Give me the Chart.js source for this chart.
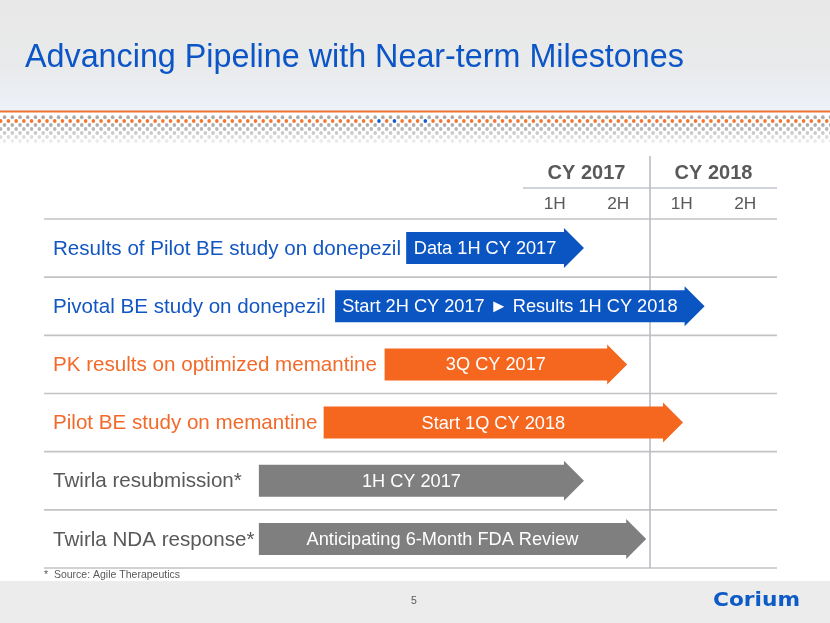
<!DOCTYPE html>
<html>
<head>
<meta charset="utf-8">
<script src="https://cdn.jsdelivr.net/npm/chart.js"></script>
<style>
  html, body { margin: 0; padding: 0; background: #fff; }
  #wrap { width: 830px; height: 623px; }
</style>
</head>
<body>
<div id="wrap"><canvas id="pipeline" width="830" height="623"></canvas></div>
<script>
// slide data
const titleText = "Advancing Pipeline with Near-term Milestones";
const rowLabels = [
  "Results of Pilot BE study on donepezil",
  "Pivotal BE study on donepezil",
  "PK results on optimized memantine",
  "Pilot BE study on memantine",
  "Twirla resubmission*",
  "Twirla NDA response*"
];
const barText = [
  "Data 1H CY 2017",
  "Start 2H CY 2017 \u25BA Results 1H CY 2018",
  "3Q CY 2017",
  "Start 1Q CY 2018",
  "1H CY 2017",
  "Anticipating 6-Month FDA Review"
];
// arrow start / tip, in calendar years
const barStart = [2016.08, 2015.52, 2015.91, 2015.43, 2014.92, 2014.92];
const barEnd = [2017.48, 2018.43, 2017.82, 2018.26, 2017.48, 2017.97];
const years = [2017, 2018];
const halves = ["1H", "2H"];
const footnote = "*  Source: Agile Therapeutics";
const pageNo = "5";

// styles
const BLUE = "#0b55c3", ORANGE = "#f5661f", GREY = "#7f7f7f";
const rowColor = [BLUE, BLUE, ORANGE, ORANGE, GREY, GREY];
const labelColor = ["#1256c2", "#1256c2", "#f26a2a", "#f26a2a", "#595959", "#595959"];
const FONT = "'Liberation Sans', Arial, sans-serif";

const slideFrame = {
  id: "slideFrame",
  beforeDraw(chart) {
    const ctx = chart.ctx;
    ctx.save();
    // top band
    let g = ctx.createLinearGradient(0, 0, 0, 111);
    g.addColorStop(0, "#e8e8e8");
    g.addColorStop(0.6, "#e9eaeb");
    g.addColorStop(1, "#edf2f9");
    ctx.fillStyle = g;
    ctx.fillRect(0, 0, 830, 111);
    ctx.fillStyle = "#f07232";
    ctx.fillRect(0, 110.5, 830, 2);
    // dotted band, staggered rows
    const rowsY = [117.2, 121, 125, 129, 133, 137, 141];
    const rowsC = ["#a9a9a9", "#f47630", "#adadad", "#b9b9b9", "#cacaca", "#dbdbdb", "#ebebeb"];
    rowsY.forEach((y, r) => {
      const shift = r % 2 === 0 ? 3.86 : 0;
      for (let k = 0; k < 109; k++) {
        const x = 0.7 + shift + k * 7.72;
        let c = rowsC[r];
        if (r === 1 && (k === 49 || k === 51 || k === 55)) c = "#155cc8";
        ctx.fillStyle = c;
        ctx.beginPath();
        ctx.ellipse(x, y, 1.8, 1.9, 0, 0, Math.PI * 2);
        ctx.fill();
      }
    });
    // footer band
    ctx.fillStyle = "#ececec";
    ctx.fillRect(0, 581, 830, 42);
    // title
    ctx.fillStyle = "#0b55c6";
    ctx.font = "32.3px " + FONT;
    ctx.textBaseline = "alphabetic";
    ctx.fillText(titleText, 25, 67);
    // footnote + page number
    ctx.fillStyle = "#595959";
    ctx.font = "10.5px " + FONT;
    ctx.textBaseline = "middle";
    ctx.fillText(footnote, 44, 575);
    ctx.textAlign = "center";
    ctx.fillText(pageNo, 414, 601);
    // logo
    ctx.fillStyle = "#0d5bc6";
    ctx.font = "bold 19px 'DejaVu Sans', " + FONT;
    ctx.textAlign = "left";
    const w = ctx.measureText("Corium").width;
    ctx.translate(713, 601);
    ctx.scale(87 / w, 1);
    ctx.fillText("Corium", 0, 0);
    ctx.restore();
  },
  beforeDatasetDraw() {
    return false;
  },
  afterDatasetsDraw(chart) {
    const ctx = chart.ctx;
    const area = chart.chartArea;
    const xs = chart.scales.x;
    const rowH = (area.bottom - area.top) / rowLabels.length;
    ctx.save();
    // grid
    ctx.strokeStyle = "#c3c3c3";
    ctx.lineWidth = 1.6;
    for (let i = 0; i <= rowLabels.length; i++) {
      const y = area.top + i * rowH;
      ctx.beginPath();
      ctx.moveTo(area.left, y);
      ctx.lineTo(area.right, y);
      ctx.stroke();
    }
    ctx.strokeStyle = "#c0c4cc";
    ctx.beginPath();
    ctx.moveTo(xs.getPixelForValue(years[0]), 188);
    ctx.lineTo(xs.getPixelForValue(years[years.length - 1] + 1), 188);
    ctx.stroke();
    ctx.strokeStyle = "#b9bdc4";
    ctx.beginPath();
    ctx.moveTo(xs.getPixelForValue(years[1]), 156);
    ctx.lineTo(xs.getPixelForValue(years[1]), area.bottom);
    ctx.stroke();
    // header
    ctx.fillStyle = "#595959";
    ctx.textAlign = "center";
    ctx.textBaseline = "middle";
    years.forEach(yr => {
      ctx.font = "bold 20px " + FONT;
      ctx.fillText("CY " + yr, xs.getPixelForValue(yr + 0.5), 173);
      ctx.font = "17.3px " + FONT;
      halves.forEach((h, j) => {
        ctx.fillText(h, xs.getPixelForValue(yr + 0.25 + j * 0.5), 204);
      });
    });
    // arrows
    const meta = chart.getDatasetMeta(0);
    meta.data.forEach((bar, i) => {
      const p = bar.getProps(["x", "y", "base", "height"], true);
      const head = 20, half = p.height / 2;
      const neck = p.x - head;
      ctx.fillStyle = rowColor[i];
      ctx.beginPath();
      ctx.moveTo(p.base, p.y - half);
      ctx.lineTo(neck, p.y - half);
      ctx.lineTo(neck, p.y - half - 4);
      ctx.lineTo(p.x, p.y);
      ctx.lineTo(neck, p.y + half + 4);
      ctx.lineTo(neck, p.y + half);
      ctx.lineTo(p.base, p.y + half);
      ctx.closePath();
      ctx.fill();
      ctx.fillStyle = "#ffffff";
      ctx.font = "18.2px " + FONT;
      ctx.textAlign = "center";
      ctx.fillText(barText[i], (p.base + neck) / 2, p.y + 1);
      // row label
      ctx.fillStyle = labelColor[i];
      ctx.font = "20.6px " + FONT;
      ctx.textAlign = "left";
      ctx.fillText(rowLabels[i], 53, p.y + 1);
    });
    ctx.restore();
  }
};

new Chart(document.getElementById("pipeline"), {
  type: "bar",
  data: {
    labels: rowLabels,
    datasets: [{
      data: barStart.map((s, i) => [s, barEnd[i]]),
      backgroundColor: rowColor,
      barThickness: 32
    }]
  },
  options: {
    indexAxis: "y",
    responsive: false,
    animation: false,
    layout: { padding: { left: 44, right: 53, top: 219, bottom: 55 } },
    scales: {
      x: { type: "linear", min: 2013.228, max: 2019, display: false },
      y: { display: false }
    },
    plugins: { legend: { display: false }, tooltip: { enabled: false } }
  },
  plugins: [slideFrame]
});
</script>
</body>
</html>
